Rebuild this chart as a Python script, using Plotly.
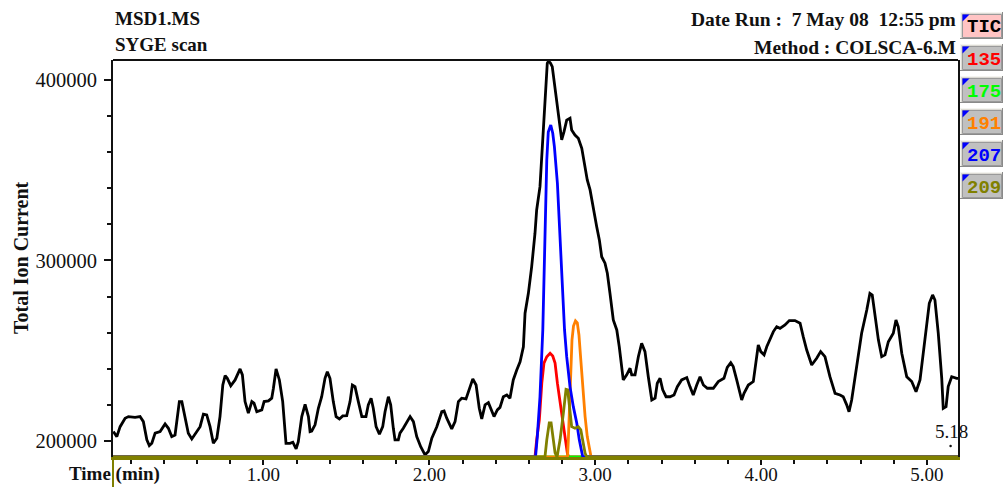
import plotly.graph_objects as go

# ---------------------------------------------------------------------------
# Chromatogram data (time in minutes, abundance)
# ---------------------------------------------------------------------------
tic_time = [
    0.095, 0.116, 0.136, 0.166, 0.186, 0.226, 0.256, 0.276, 0.297, 0.312,
    0.327, 0.347, 0.377, 0.407, 0.427, 0.447, 0.467, 0.493, 0.508, 0.527,
    0.547, 0.568, 0.598, 0.618, 0.638, 0.658, 0.678, 0.698, 0.719, 0.738,
    0.755, 0.769, 0.782, 0.803, 0.829, 0.859, 0.873, 0.889, 0.909, 0.930,
    0.943, 0.960, 0.990, 1.004, 1.030, 1.050, 1.060, 1.076, 1.096, 1.116,
    1.136, 1.160, 1.177, 1.197, 1.210, 1.231, 1.251, 1.271, 1.281, 1.291,
    1.311, 1.331, 1.351, 1.371, 1.385, 1.401, 1.421, 1.438, 1.458, 1.478,
    1.502, 1.522, 1.536, 1.552, 1.572, 1.593, 1.618, 1.632, 1.649, 1.662,
    1.679, 1.699, 1.719, 1.733, 1.753, 1.767, 1.783, 1.793, 1.813, 1.823,
    1.843, 1.864, 1.884, 1.904, 1.924, 1.948, 1.974, 1.994, 2.015, 2.045,
    2.075, 2.089, 2.105, 2.135, 2.155, 2.175, 2.195, 2.221, 2.241, 2.262,
    2.282, 2.301, 2.316, 2.336, 2.356, 2.376, 2.390, 2.410, 2.426, 2.446,
    2.467, 2.486, 2.506, 2.527, 2.547, 2.567, 2.577, 2.597, 2.617, 2.637,
    2.647, 2.667, 2.678, 2.691, 2.697, 2.711, 2.719, 2.730, 2.741, 2.758,
    2.772, 2.784, 2.798, 2.812, 2.828, 2.848, 2.858, 2.878, 2.898, 2.919,
    2.939, 2.952, 2.969, 2.989, 3.009, 3.025, 3.039, 3.059, 3.073, 3.089,
    3.109, 3.130, 3.145, 3.169, 3.190, 3.210, 3.220, 3.240, 3.260, 3.280,
    3.300, 3.320, 3.341, 3.361, 3.374, 3.391, 3.407, 3.427, 3.451, 3.475,
    3.495, 3.521, 3.552, 3.571, 3.591, 3.612, 3.632, 3.652, 3.676, 3.712,
    3.742, 3.776, 3.796, 3.817, 3.832, 3.853, 3.873, 3.883, 3.897, 3.923,
    3.953, 3.969, 3.983, 3.998, 4.018, 4.034, 4.054, 4.074, 4.094, 4.114,
    4.144, 4.170, 4.204, 4.235, 4.254, 4.275, 4.305, 4.335, 4.359, 4.385,
    4.415, 4.446, 4.476, 4.495, 4.516, 4.530, 4.546, 4.576, 4.606, 4.637,
    4.656, 4.670, 4.687, 4.707, 4.727, 4.747, 4.767, 4.797, 4.813, 4.827,
    4.848, 4.878, 4.908, 4.934, 4.958, 4.988, 5.014, 5.034, 5.048, 5.068,
    5.089, 5.098, 5.115, 5.128, 5.149, 5.179, 5.190,
]
tic_abund = [
    205200, 202400, 207900, 212600, 213500, 213100, 213500, 210700, 200600, 197400,
    198700, 204300, 205200, 209400, 207000, 202400, 203300, 221800, 221800, 212600,
    204300, 201100, 205200, 207900, 214800, 214400, 207900, 198700, 201500, 213500,
    231000, 236200, 234700, 230600, 233800, 239900, 236600, 221800, 215400, 221800,
    220900, 216200, 217200, 221800, 222200, 223700, 229200, 239900, 233800, 221800,
    198700, 198700, 199300, 195600, 199600, 213500, 220300, 213500, 205200, 205500,
    208900, 218100, 224500, 234700, 238400, 234700, 221800, 213500, 212200, 213900,
    214000, 221800, 231000, 230100, 221800, 213500, 213500, 220000, 223700, 218100,
    207900, 203700, 207900, 216200, 224500, 220000, 207000, 200600, 200600, 204300,
    207000, 210700, 213500, 210700, 202400, 196800, 192300, 194100, 201500, 207900,
    216200, 216600, 212600, 206700, 210700, 221800, 223700, 223300, 229200, 234400,
    231000, 218100, 212200, 220000, 221200, 217200, 213500, 217200, 218600, 224500,
    225500, 223700, 233800, 239300, 243900, 252200, 270800, 281800, 296600, 315100,
    328000, 340900, 357500, 377800, 392600, 409300, 410500, 409400, 407400, 394500,
    385200, 374100, 366800, 371400, 377800, 378800, 372300, 369500, 367700, 362200,
    352000, 344600, 339100, 328000, 318700, 311400, 302100, 298500, 292900, 281800,
    267000, 261500, 252200, 233800, 236600, 240300, 236600, 236600, 246700, 254100,
    249500, 235600, 222700, 223700, 232000, 234700, 228300, 224500, 224500, 225500,
    230100, 233800, 235100, 230100, 225500, 231000, 235600, 231000, 229200, 229200,
    232900, 234700, 240800, 243400, 241200, 233800, 225500, 222700, 226400, 231000,
    232900, 243100, 253200, 249500, 247700, 252200, 256900, 260600, 263300, 262400,
    264300, 266700, 266700, 265200, 257800, 250400, 242100, 245800, 249500, 246700,
    235600, 226400, 225500, 224500, 220000, 216200, 222700, 241200, 259700, 272600,
    281800, 280900, 268900, 256000, 246700, 247700, 255000, 259700, 267000, 263300,
    248600, 235600, 232900, 227300, 233800, 256000, 276300, 280900, 278100, 259700,
    234700, 218100, 219000, 230100, 235600, 234700, 234700,
]

# Extracted ion chromatograms, drawn from the common baseline
ion_baseline = 191100

ion135_time = [0.09, 2.637, 2.647, 2.663, 2.678, 2.691, 2.708, 2.728, 2.744,
               2.758, 2.772, 2.788, 2.804, 2.818, 2.832, 2.840, 5.19]
ion135_abund = [ion_baseline, ion_baseline, 200600, 211600, 232000, 243100, 246700,
                248600, 247100, 243100, 232000, 220900, 209800, 200600, 193200,
                ion_baseline, ion_baseline]

ion175_time = [0.09, 5.19]
ion175_abund = [ion_baseline, ion_baseline]

ion191_time = [0.09, 2.833, 2.838, 2.845, 2.852, 2.860, 2.869, 2.881, 2.892,
               2.902, 2.911, 2.925, 2.939, 2.952, 2.969, 2.975, 5.19]
ion191_abund = [ion_baseline, ion_baseline, 200600, 220000, 239300, 256000, 263700,
                266500, 265400, 258700, 247600, 228300, 213500, 202400, 192300,
                ion_baseline, ion_baseline]

ion207_time = [0.09, 2.640, 2.651, 2.667, 2.684, 2.697, 2.708, 2.717, 2.732,
               2.744, 2.754, 2.772, 2.788, 2.804, 2.815, 2.828, 2.848, 2.868,
               2.889, 2.904, 2.919, 2.925, 5.19]
ion207_abund = [ion_baseline, ion_baseline, 202400, 224500, 261500, 316900, 355700,
                371200, 375100, 370500, 363000, 342800, 311400, 278100, 261500,
                246700, 230100, 219000, 209800, 200600, 193400, ion_baseline,
                ion_baseline]

ion209_time = [0.09, 2.697, 2.708, 2.723, 2.734, 2.747, 2.758, 2.770, 2.788,
               2.808, 2.824, 2.834, 2.844, 2.858, 2.878, 2.898, 2.913, 2.925,
               2.939, 2.949, 5.19]
ion209_abund = [ion_baseline, ion_baseline, 200600, 210000, 210000, 202400, 193400,
                ion_baseline, 200600, 215400, 228600, 228300, 219000, 207900,
                207000, 207900, 206100, 200600, 193200, ion_baseline, ion_baseline]

trace_labels = ["TIC", "135", "175", "191", "207", "209"]
trace_colors = ["#000000", "#ff0000", "#00ff00", "#ff8000", "#0000ff", "#808000"]
trace_times = [tic_time, ion135_time, ion175_time, ion191_time, ion207_time, ion209_time]
trace_values = [tic_abund, ion135_abund, ion175_abund, ion191_abund, ion207_abund, ion209_abund]

x_ticks = [1, 2, 3, 4, 5]
y_ticks = [200000, 300000, 400000]
end_time = 5.18

# ---------------------------------------------------------------------------
# Page geometry
# ---------------------------------------------------------------------------
FIG_W, FIG_H = 1005, 487
M_L, M_R, M_T, M_B = 113, 47, 60, 30
PLOT_W = FIG_W - M_L - M_R
PLOT_H = FIG_H - M_T - M_B

SERIF = "Liberation Serif, Times New Roman, serif"
MONO = "Liberation Mono, Courier New, monospace"
INK = "#111111"
OLIVE = "#808000"


def px_x(px):
    return (px - M_L) / PLOT_W


def px_y(py):
    return (FIG_H - M_B - py) / PLOT_H


fig = go.Figure()

for label, color, t, v in zip(trace_labels, trace_colors, trace_times, trace_values):
    fig.add_trace(go.Scatter(
        x=t, y=v, mode="lines", name=label,
        line=dict(color=color, width=2.8),
        showlegend=False, hoverinfo="skip",
    ))

shapes = []
annotations = []

# top border of the plotting frame
shapes.append(dict(type="line", xref="paper", yref="paper", x0=0, x1=1, y0=1, y1=1,
                   line=dict(color=INK, width=2)))
# short olive stub under the left corner
shapes.append(dict(type="line", xref="paper", yref="paper", x0=0, x1=0,
                   y0=px_y(FIG_H), y1=0, line=dict(color=OLIVE, width=2)))

# header text
annotations += [
    dict(text="<b>MSD1.MS</b>", xref="paper", yref="paper", x=0, y=px_y(18),
         xanchor="left", yanchor="middle", showarrow=False,
         font=dict(family=SERIF, size=19, color=INK)),
    dict(text="<b>SYGE scan</b>", xref="paper", yref="paper", x=0, y=px_y(45),
         xanchor="left", yanchor="middle", showarrow=False,
         font=dict(family=SERIF, size=19, color=INK)),
    dict(text="<b>Date Run :\u00a0 7 May 08\u00a0 12:55 pm</b>", xref="paper", yref="paper",
         x=1, y=px_y(20), xanchor="right", yanchor="middle", showarrow=False,
         font=dict(family=SERIF, size=19.5, color=INK)),
    dict(text="<b>Method : COLSCA-6.M</b>", xref="paper", yref="paper",
         x=1, y=px_y(47), xanchor="right", yanchor="middle", showarrow=False,
         font=dict(family=SERIF, size=19.5, color=INK)),
    dict(text="<b>Total Ion Current</b>", xref="paper", yref="paper",
         x=px_x(21), y=px_y(258), xanchor="center", yanchor="middle",
         textangle=-90, showarrow=False,
         font=dict(family=SERIF, size=20, color=INK)),
    dict(text="<b>Time (min)</b>", xref="paper", yref="paper",
         x=px_x(114), y=px_y(474), xanchor="center", yanchor="middle",
         showarrow=False, font=dict(family=SERIF, size=19, color=INK)),
    dict(text=f"{end_time:.2f}", xref="x", yref="y", x=end_time, y=205000,
         xshift=-5, xanchor="center", yanchor="middle", showarrow=False,
         font=dict(family=SERIF, size=19, color=INK)),
]
# small marker under the end-of-run label
shapes.append(dict(type="circle", xref="x", yref="y", xsizemode="pixel",
                   ysizemode="pixel", xanchor=end_time, yanchor=197200,
                   x0=-7.5, x1=-5, y0=-1.25, y1=1.25,
                   fillcolor=INK, line=dict(width=0)))

# ion selector buttons down the right side
for i, (label, color) in enumerate(zip(trace_labels, trace_colors)):
    top = 12 + 32 * i
    bot = top + 27
    left, right = 960, 1003
    shapes.append(dict(type="rect", xref="paper", yref="paper",
                       x0=px_x(left), x1=px_x(right), y0=px_y(bot), y1=px_y(top),
                       fillcolor="#dcdad4", line=dict(width=0)))
    inner_fill = "#ffc4c4" if label == "TIC" else "#c0c0c0"
    shapes.append(dict(type="rect", xref="paper", yref="paper",
                       x0=px_x(left + 2.5), x1=px_x(right - 1.5),
                       y0=px_y(bot - 1.5), y1=px_y(top + 2.5),
                       fillcolor=inner_fill, line=dict(color="#9a9a9a", width=1)))
    # bevel: light top/left, dark bottom/right
    shapes.append(dict(type="line", xref="paper", yref="paper",
                       x0=px_x(left), x1=px_x(right), y0=px_y(top + 0.5), y1=px_y(top + 0.5),
                       line=dict(color="#f4f4f0", width=1)))
    shapes.append(dict(type="line", xref="paper", yref="paper",
                       x0=px_x(left + 0.5), x1=px_x(left + 0.5), y0=px_y(bot), y1=px_y(top),
                       line=dict(color="#f4f4f0", width=1)))
    shapes.append(dict(type="line", xref="paper", yref="paper",
                       x0=px_x(left), x1=px_x(right), y0=px_y(bot - 0.5), y1=px_y(bot - 0.5),
                       line=dict(color="#8a8a8a", width=1)))
    shapes.append(dict(type="line", xref="paper", yref="paper",
                       x0=px_x(right - 0.5), x1=px_x(right - 0.5), y0=px_y(bot), y1=px_y(top),
                       line=dict(color="#8a8a8a", width=1)))
    # blue corner flag
    tri = "M {:.5f},{:.5f} L {:.5f},{:.5f} L {:.5f},{:.5f} Z".format(
        px_x(left + 2.5), px_y(top + 2.5),
        px_x(left + 9.5), px_y(top + 2.5),
        px_x(left + 2.5), px_y(top + 9.5))
    shapes.append(dict(type="path", xref="paper", yref="paper", path=tri,
                       fillcolor="#0000ff", line=dict(width=0)))
    annotations.append(dict(
        text=f"<b>{label}</b>", xref="paper", yref="paper",
        x=px_x(984), y=px_y((top + bot) / 2 + 2), xanchor="center", yanchor="middle",
        showarrow=False, font=dict(family=MONO, size=19, color=color)))

fig.update_layout(
    width=FIG_W, height=FIG_H, autosize=False,
    margin=dict(l=M_L, r=M_R, t=M_T, b=M_B, pad=0, autoexpand=False),
    paper_bgcolor="white", plot_bgcolor="white",
    shapes=shapes, annotations=annotations,
    showlegend=False,
    xaxis=dict(
        range=[0.093, 5.187], tickmode="array", tickvals=x_ticks,
        ticktext=[f"{v:.2f}" for v in x_ticks], automargin=False,
        ticks="outside", ticklen=5, tickwidth=1.5, tickcolor=INK,
        ticklabelstandoff=-7,
        showline=True, linecolor=OLIVE, linewidth=3, mirror=False,
        showgrid=False, zeroline=False, layer="below traces",
        tickfont=dict(family=SERIF, size=19, color=INK),
        minor=dict(tick0=0, dtick=0.2, ticks="outside", ticklen=4,
                   tickwidth=1.5, tickcolor=INK, showgrid=False),
    ),
    yaxis=dict(
        range=[191100, 411100], tickmode="array", tickvals=y_ticks,
        ticktext=[str(v) for v in y_ticks], automargin=False,
        ticks="outside", ticklen=7, tickwidth=1.5, tickcolor=INK,
        ticklabelstandoff=3,
        showline=True, linecolor=INK, linewidth=2, mirror=True,
        showgrid=False, zeroline=False,
        tickfont=dict(family=SERIF, size=20.5, color=INK),
        minor=dict(tick0=0, dtick=20000, ticks="outside", ticklen=4,
                   tickwidth=1.5, tickcolor=INK, showgrid=False),
    ),
)

fig.write_html("out.html")
